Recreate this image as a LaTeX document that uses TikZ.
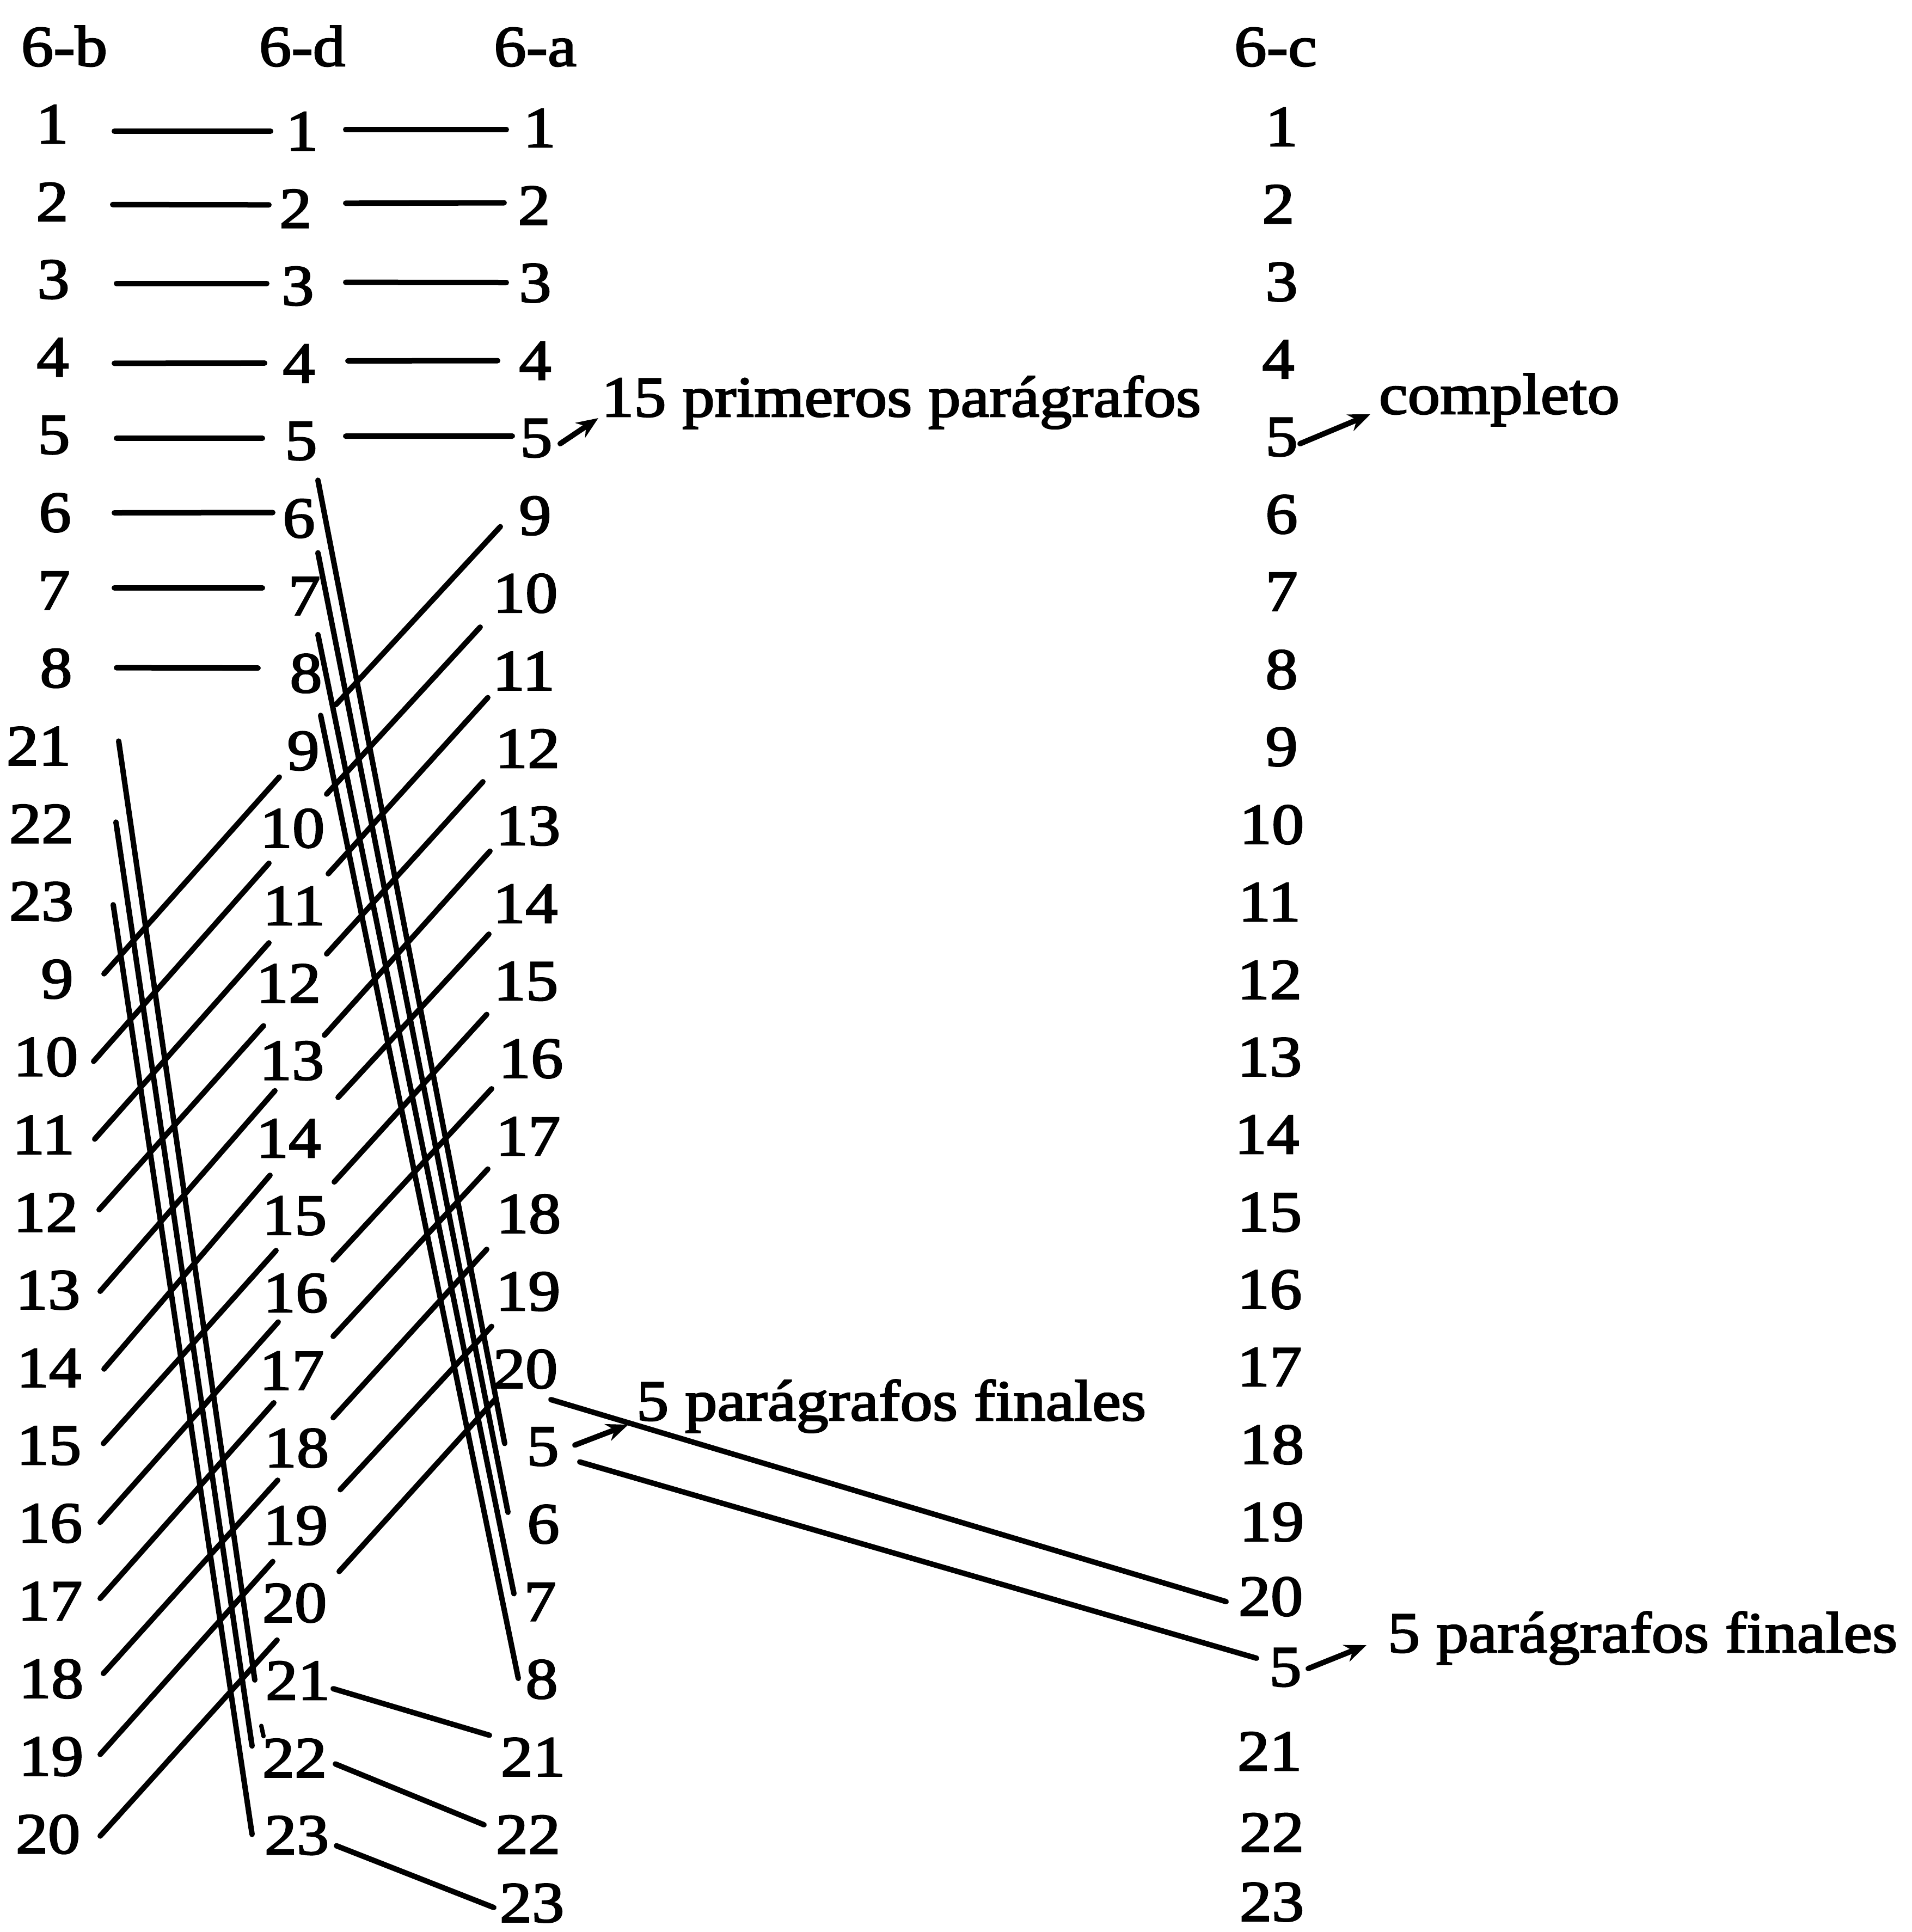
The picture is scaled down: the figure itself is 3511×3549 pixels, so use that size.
\documentclass[tikz,border=0pt]{standalone}
\usepackage{fontspec}
\setmainfont{Liberation Serif}[FakeStretch=1.12,FakeBold=2.5]
\usetikzlibrary{arrows.meta}
\begin{document}
\begin{tikzpicture}[x=0.2pt,y=-0.2pt,
  num/.style={inner sep=0pt, font=\fontsize{21.2}{24}\selectfont},
  lbl/.style={inner sep=0pt, font=\fontsize{21.2}{24}\selectfont},
  ln/.style={line width=2pt, line cap=round},
  arr/.style={line width=2pt, line cap=round, -{Stealth[length=8pt,width=6.5pt]}}]
\useasboundingbox (0,0) rectangle (3511,3549);
\fill[white] (0,0) rectangle (3511,3549);
% headings
\node[lbl,anchor=base] (hb) at (118,121) {6-b};
\node[lbl,anchor=base] (hd) at (555,121) {6-d};
\node[lbl,anchor=base] (ha) at (983,121) {6-a};
\node[lbl,anchor=base] (hc) at (2343,121) {6-c};
% column 6-b
\foreach \t/\x [count=\i from 0] in {1/96,2/96,3/98,4/97,5/99,6/101,7/99,8/103,21/71,22/76,23/76,9/105,10/84,11/80,12/84,13/88,14/90,15/90,16/92,17/92,18/94,19/94,20/88}
  \node[num] (b\i) at (\x,{228+142.8*\i}) {\t};
% column 6-d
\foreach \t/\x [count=\i from 0] in {1/555,2/543,3/547,4/549,5/553,6/549,7/559,8/562,9/557,10/537,11/540,12/530,13/536,14/530,15/541,16/543,17/536,18/545,19/543,20/541,21/547,22/541,23/545}
  \node[num] (d\i) at (\x,{241+142.3*\i}) {\t};
% column 6-a
\foreach \t/\x/\y [count=\i from 0] in {1/991/235,2/981/377.5,3/983/520,4/983/662.5,5/985/805,9/983/947.5,10/965/1090,11/962/1232.5,12/969/1375,13/970/1517.5,14/965/1660,15/966/1802.5,16/975/1945,17/970/2087.5,18/971/2230,19/970/2372.5,20/965/2515,5/997/2657.5,6/998/2800,7/992/2942.5,8/995/3085,21/979/3227.5,22/970/3370,23/977/3496}
  \node[num] (a\i) at (\x,\y) {\t};
% column 6-c
\foreach \t/\x/\y [count=\i from 0] in {1/2354/233,2/2348/375,3/2354/518,4/2348/660,5/2354/803,6/2354/945,7/2354/1087,8/2354/1230,9/2354/1372,10/2336/1515,11/2332/1657,12/2332/1800,13/2332/1942,14/2327/2084,15/2332/2227,16/2332/2369,17/2332/2511,18/2336/2654,19/2336/2796,20/2334/2933,5/2361/3063,21/2332/3217,22/2336/3366,23/2336/3494}
  \node[num] (c\i) at (\x,\y) {\t};
% side texts
\node[lbl,anchor=base west] (t1) at (1104,765) {15 primeros parágrafos};
\node[lbl,anchor=base west] (t2) at (2532,760) {completo};
\node[lbl,anchor=base west] (t3) at (1168,2609) {5 parágrafos finales};
\node[lbl,anchor=base west] (t4) at (2548,3035) {5 parágrafos finales};
% connectors
\foreach \s/\e/\sx/\sy/\ex/\ey in {
  b0/d0/114/13/-58/0, b1/d1/111/5/-49/-7, b2/d2/116/7/-57/-5, b3/d3/113/11/-63/-1,
  b4/d4/115/6/-71/-5, b5/d5/109/0/-48/-11, b6/d6/111/-5/-77/-15, b7/d7/111/-1/-88/-10,
  d0/a0/80/-3/-61/3, d1/a1/92/-10/-55/-5, d2/a2/88/-7/-53/-1, d3/a3/90/-5/-69/0, d4/a4/82/-9/-44/-4,
  b11/d8/86/-10/-44/48, b12/d9/88/8/-43/64, b13/d10/94/8/-46/68, b14/d11/98/-5/-46/78,
  b15/d12/96/2/-31/55, b16/d13/101/2/-34/68, b17/d14/100/-4/-34/64, b18/d15/92/-2/-32/53,
  b19/d16/92/-5/-33/59, b20/d17/96/-10/-35/59, b21/d18/90/-4/-42/66, b22/d19/96/3/-32/68,
  d8/a5/60/-85/-64/20, d9/a6/63/-63/-83/62, d10/a7/63/-59/-66/49, d11/a8/70/-54/-82/61,
  d12/a9/60/-47/-70/46, d13/a10/91/-75/-67/56, d14/a11/73/-62/-72/61, d15/a12/69/-61/-72/55,
  d16/a13/76/-63/-74/60, d17/a14/67/-56/-77/65, d18/a15/82/-66/-67/64, d19/a16/82/-58/-56/56,
  b8/d20/147/-9/-79/-1, b9/d21/137/-3/-78/-22, b10/d22/132/6/-82/-2,
  d4/a17/31/72/-70/-6, d5/a18/35/63/-65/-22, d6/a19/25/71/-48/-15, d7/a20/27/77/-43/-2,
  d20/a21/65/15/-80/-40, d21/a22/75/11/-81/-18, d22/a23/73/19/-70/8,
  a16/c19/47/56/-82/9, a17/c20/68/28/-53/-17}
  \draw[ln] ([shift={(\sx,\sy)}]\s.center) -- ([shift={(\ex,\ey)}]\e.center);
% small mark beside 22
\draw[line width=1.6pt, line cap=round] ([shift={(-61,-59)}]d21.center) -- ([shift={(-57,-40)}]d21.center);
% arrows to the notes
\draw[arr] ([shift={(44,10)}]a4.center) -- ([shift={(-5,3)}]t1.base west);
\draw[arr] ([shift={(34,12)}]c4.center) -- ([shift={(-15,1)}]t2.base west);
\draw[arr] ([shift={(59,-3)}]a17.center) -- ([shift={(-14,8)}]t3.base west);
\draw[arr] ([shift={(42,2)}]c20.center) -- ([shift={(-38,-13)}]t4.base west);
\end{tikzpicture}
\end{document}
